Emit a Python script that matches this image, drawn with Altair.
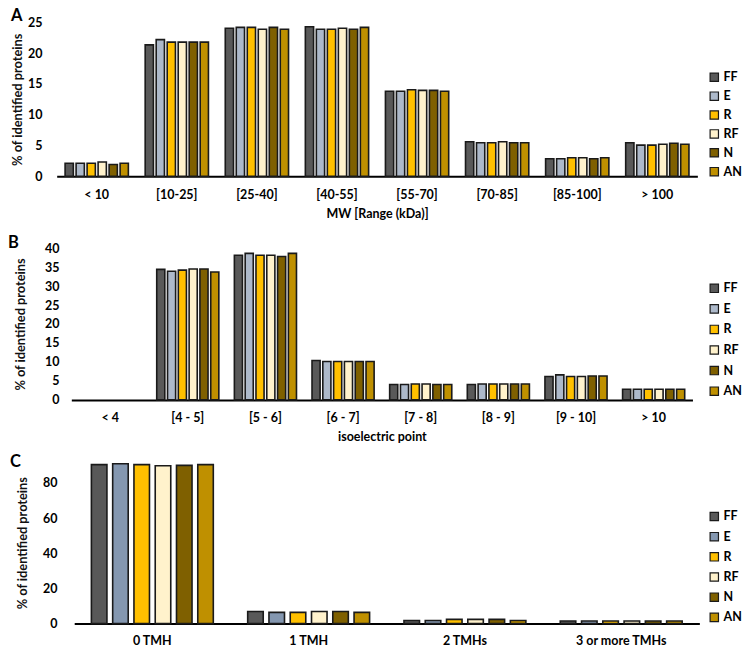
import altair as alt
import pandas as pd

FONT = "Lato"

series = ["FF", "E", "R", "RF", "N", "AN"]
colors_ab = ["#595959", "#ADB9CA", "#FFC000", "#FFF2CC", "#7F6000", "#BF9000"]
colors_c = ["#595959", "#8497B0", "#FFC000", "#FFF2CC", "#7F6000", "#BF9000"]

# Panel A: molecular weight
mw_categories = ["< 10", "[10-25]", "[25-40]", "[40-55]", "[55-70]", "[70-85]", "[85-100]", "> 100"]
mw_FF = [2.1, 21.35, 24.05, 24.3, 13.8, 5.6, 2.85, 5.45]
mw_E = [2.1, 22.2, 24.2, 23.9, 13.8, 5.45, 2.85, 5.05]
mw_R = [2.1, 21.8, 24.2, 23.9, 14.05, 5.45, 3.0, 5.05]
mw_RF = [2.3, 21.8, 23.9, 24.05, 13.95, 5.6, 3.0, 5.2]
mw_N = [1.9, 21.8, 24.2, 23.9, 13.95, 5.45, 2.85, 5.35]
mw_AN = [2.1, 21.8, 23.9, 24.2, 13.8, 5.45, 3.0, 5.2]

# Panel B: isoelectric point
pi_categories = ["< 4", "[4 - 5]", "[5 - 6]", "[6 - 7]", "[7 - 8]", "[8 - 9]", "[9 - 10]", "> 10"]
pi_FF = [0, 34.4, 38.1, 10.4, 4.05, 4.05, 6.15, 2.8]
pi_E = [0, 33.9, 38.6, 10.1, 4.05, 4.2, 6.6, 2.8]
pi_R = [0, 34.2, 38.1, 10.1, 4.2, 4.2, 6.15, 2.8]
pi_RF = [0, 34.5, 38.1, 10.1, 4.2, 4.2, 6.15, 2.8]
pi_N = [0, 34.5, 37.8, 10.1, 4.05, 4.2, 6.3, 2.8]
pi_AN = [0, 33.7, 38.6, 10.1, 4.05, 4.2, 6.3, 2.8]

# Panel C: transmembrane helices
tm_categories = ["0 TMH", "1 TMH", "2 TMHs", "3 or more TMHs"]
tm_FF = [90.4, 6.9, 1.8, 1.45]
tm_E = [90.9, 6.4, 1.8, 1.45]
tm_R = [90.4, 6.4, 2.4, 1.45]
tm_RF = [89.8, 6.9, 2.4, 1.45]
tm_N = [90.0, 6.9, 2.4, 1.45]
tm_AN = [90.4, 6.4, 1.8, 1.45]


def long_df(cats, cols):
    rows = []
    for s, vals in zip(series, cols):
        for c, v in zip(cats, vals):
            rows.append({"cat": c, "series": s, "value": v})
    return pd.DataFrame(rows)


df_a = long_df(mw_categories, [mw_FF, mw_E, mw_R, mw_RF, mw_N, mw_AN])
df_b = long_df(pi_categories, [pi_FF, pi_E, pi_R, pi_RF, pi_N, pi_AN])
df_c = long_df(tm_categories, [tm_FF, tm_E, tm_R, tm_RF, tm_N, tm_AN])

W = 642


def panel(df, cats, colors, letter, letter_xy, height, top, ydomain, yvalues,
          xrange, pad_inner, off_pad, label_pad, title_x, xtitle,
          xtitle_y, xlabel_pad, legend_y, legend_row):
    xaxis_kwargs = dict(
        labelAngle=0, ticks=False, tickSize=0, domainColor="black", domainWidth=2,
        labelPadding=xlabel_pad, labelFont=FONT, labelFontSize=12.5,
        labelFontWeight="bold", labelColor="black",
    )
    if xtitle:
        xaxis_kwargs.update(title=xtitle, titleFont=FONT, titleFontSize=12.5,
                            titleFontWeight="bold", titleColor="black",
                            titleY=xtitle_y, titleBaseline="middle")
    else:
        xaxis_kwargs.update(title=None)

    bars = alt.Chart(df).transform_filter("datum.value > 0").mark_bar(
        stroke="#1a1a1a", strokeWidth=1.6
    ).encode(
        x=alt.X("cat:N", sort=cats,
                scale=alt.Scale(domain=cats, range=xrange, paddingInner=pad_inner,
                                paddingOuter=pad_inner / 2),
                axis=alt.Axis(**xaxis_kwargs)),
        xOffset=alt.XOffset("series:N", sort=series,
                            scale=alt.Scale(domain=series, paddingInner=off_pad,
                                            paddingOuter=0)),
        y=alt.Y("value:Q", scale=alt.Scale(domain=ydomain, nice=False, zero=True,
                                           range=[height, top]),
                axis=alt.Axis(title="% of identified proteins", values=yvalues,
                              domain=False, ticks=False, tickSize=0, grid=False,
                              labelPadding=label_pad, labelFont=FONT,
                              labelFontSize=12.5, labelFontWeight="bold",
                              labelColor="black", titleFont=FONT, titleFontSize=12.8,
                              titleFontWeight="bold", titleColor="#111111",
                              titleX=title_x, titleBaseline="middle")),
        color=alt.Color("series:N", sort=series,
                        scale=alt.Scale(domain=series, range=colors),
                        legend=alt.Legend(title=None, orient="none", legendX=650,
                                          legendY=legend_y + top, padding=0,
                                          symbolType="square", symbolSize=70,
                                          symbolStrokeColor="#1a1a1a",
                                          symbolStrokeWidth=1.2, symbolOpacity=1,
                                          labelFont=FONT, labelFontSize=12.5,
                                          labelFontWeight="bold", labelColor="black",
                                          labelOffset=3, rowPadding=legend_row)),
    )
    txt = alt.Chart(pd.DataFrame({"t": [letter]})).mark_text(
        font=FONT, fontSize=16.5, fontWeight="bold", align="left",
        baseline="alphabetic", color="black",
    ).encode(text="t:N", x=alt.value(letter_xy[0]), y=alt.value(letter_xy[1] + top))
    return alt.layer(bars, txt).properties(width=W, height=height)


chart_a = panel(df_a, mw_categories, colors_ab, "A", (-48, -1), 154, 0, [0, 25],
                [0, 5, 10, 15, 20, 25], [-2.25, 639.3], 0.21, 0.25, 17, -41.25,
                "MW [Range (kDa)]", 37, 12, 48.7, 4.9)
chart_b = panel(df_b, pi_categories, colors_ab, "B", (-51, -0.3), 162, 10, [0, 40],
                [0, 5, 10, 15, 20, 25, 30, 35, 40], [12.4, 634.4], 0.2, 0.25, 0,
                -38.3, "isoelectric point", 36.6, 12, 34, 6.6)
chart_c = panel(df_c, tm_categories, colors_c, "C", (-49, 5.6), 162, 0, [0, 92],
                [0, 20, 40, 60, 80], [15.3, 641.3], 0.22, 0.27, 2, -36.4,
                None, 0, 11, 48.5, 6.2)

chart = alt.vconcat(chart_a, chart_b, chart_c, spacing=62, bounds="flush").resolve_scale(
    x="independent", y="independent", color="independent", xOffset="independent"
).resolve_legend(color="independent").properties(padding=0).configure_view(strokeWidth=0)

chart.save("out.html", embed_options={"renderer": "svg", "actions": False})
